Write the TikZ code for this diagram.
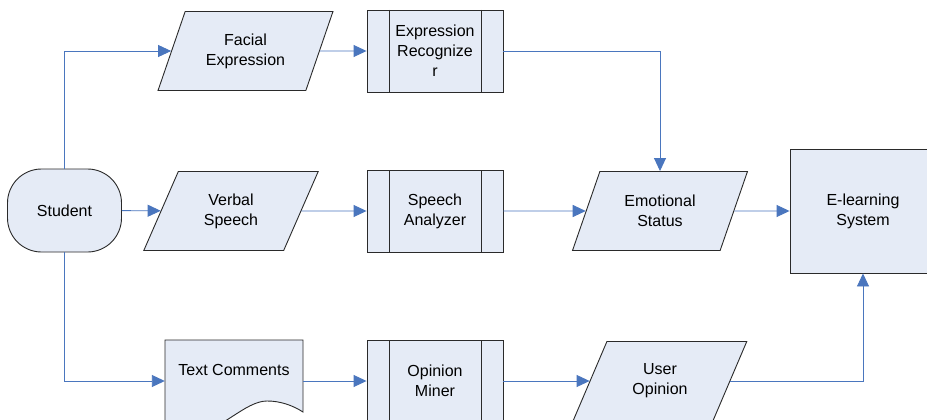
\documentclass[tikz,border=0pt]{standalone}
\usepackage{fontspec}
\setmainfont{Liberation Sans}
\usetikzlibrary{shapes.geometric,arrows.meta,backgrounds}
\definecolor{fillc}{HTML}{E5EBF6}
\definecolor{edgec}{HTML}{2A2A2A}
\definecolor{linec}{HTML}{4A76BE}
\begin{document}
\begin{tikzpicture}[x=1pt,y=-1pt,
  every node/.style={font=\fontsize{16}{20}\selectfont, align=center, text=black},
  base/.style={draw=edgec, fill=fillc, line width=0.9pt},
  para/.style={base, shape=trapezium, trapezium left angle=63, trapezium right angle=117,
    trapezium stretches=true, minimum width=175pt, minimum height=79pt, inner sep=0pt},
  procbox/.style={base, rectangle, minimum width=136pt, minimum height=82pt, inner sep=0pt,
    path picture={
      \draw[edgec, line width=0.9pt] ([xshift=22pt]path picture bounding box.north west) -- ([xshift=22pt]path picture bounding box.south west);
      \draw[edgec, line width=0.9pt] ([xshift=-22pt]path picture bounding box.north east) -- ([xshift=-22pt]path picture bounding box.south east);
    }},
  termbox/.style={base, rectangle, rounded corners=34pt, minimum width=114pt, minimum height=83pt},
  sysbox/.style={base, rectangle, minimum width=146pt, minimum height=124pt},
  docnode/.style={rectangle, minimum width=138pt, minimum height=82pt, inner sep=0pt},
  conn/.style={draw=linec, line width=0.9pt, -{Triangle[length=13pt,width=12pt,fill=linec]}}
]
\clip (0,0) rectangle (927,420);

% nodes
\node[termbox] (st) at (64.5,210.5) {Student};
\node[para] (fe) at (245.5,51) {Facial\\Expression};
\node[para] (vs) at (231,211) {Verbal\\Speech};
\node[docnode, text height=11pt, text depth=22pt] (tc) at (234,381) {Text Comments};
\node[procbox] (er) at (435,51) {Expression\\Recognize\\r};
\node[procbox] (sa) at (435,211) {Speech\\Analyzer};
\node[procbox] (om) at (435,381) {Opinion\\Miner};
\node[para] (es) at (660,211) {Emotional\\Status};
\node[para] (uo) at (660,381) {User\\Opinion};
\node[sysbox] (el) at (863,211) {E-learning\\System};

% white page and document shape behind the text
\begin{scope}[on background layer]
  \fill[white] (0,0) rectangle (927,420);
  \draw[base] (165,340) -- (303,340) -- (303,412)
    .. controls (292,405) and (280,401) .. (267,401)
    .. controls (245,401) and (220,432) .. (196,432)
    .. controls (180,432) and (172,428) .. (165,424) -- cycle;
\end{scope}

% connectors
\draw[conn] (st.north) |- (fe);
\draw[conn] (fe) -- (er);
\draw[conn] (er) -| (es);
\draw[conn] (st) -- (vs);
\draw[conn] (vs) -- (sa);
\draw[conn] (sa) -- (es);
\draw[conn] (es) -- (el);
\draw[conn] (st.south) |- (tc);
\draw[conn] (tc) -- (om);
\draw[conn] (om) -- (uo);
\draw[conn] (uo) -| (el);
\end{tikzpicture}
\end{document}
